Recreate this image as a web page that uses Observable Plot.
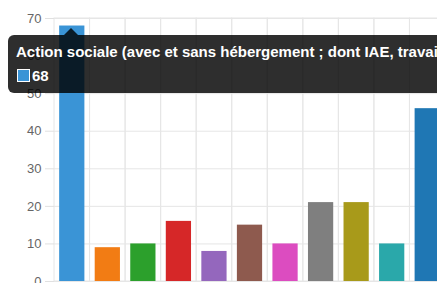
<!DOCTYPE html>
<html>
<head>
<meta charset="utf-8">
<script src="https://cdn.jsdelivr.net/npm/d3@7"></script>
<script src="https://cdn.jsdelivr.net/npm/@observablehq/plot@0.6"></script>
<style>
  html, body { margin: 0; padding: 0; background: #fff; overflow: hidden; width: 437px; height: 283px; }
  #wrap { position: relative; width: 437px; height: 283px; overflow: hidden; }
  #chart svg { max-width: none !important; display: block; }
  #tip {
    position: absolute; left: 8px; top: 35px; width: 470px; height: 58px;
    background: rgba(0,0,0,0.82); border-radius: 6px; color: #fff;
    font-family: "Liberation Sans", Arial, sans-serif; box-sizing: border-box;
  }
  #tip::before {
    content: ""; position: absolute; left: 56px; top: -7px;
    border-left: 7px solid transparent; border-right: 7px solid transparent;
    border-bottom: 7px solid rgba(0,0,0,0.82);
  }
  #tip .t { position: absolute; left: 8px; top: 8px; font-weight: bold; font-size: 15px; white-space: nowrap; }
  #tip .b { position: absolute; left: 9px; top: 32px; font-weight: bold; font-size: 15px; display: flex; align-items: center; }
  #tip .sw { width: 11px; height: 11px; border: 1px solid #fff; margin-right: 2px; }
</style>
</head>
<body>
<div id="wrap">
  <div id="chart"></div>
  <div id="tip"><div class="t"></div><div class="b"><span class="sw"></span><span class="v"></span></div></div>
</div>
<script>
const categories = [
  "Action sociale (avec et sans hébergement ; dont IAE, travail protégé)",
  "Catégorie 2", "Catégorie 3", "Catégorie 4", "Catégorie 5", "Catégorie 6",
  "Catégorie 7", "Catégorie 8", "Catégorie 9", "Catégorie 10", "Catégorie 11"
];
const values = [68, 9, 10, 16, 8, 15, 10, 21, 21, 10, 46];
const colors = ["#3a94d6", "#f27c14", "#2ca02c", "#d62728", "#9467bd", "#8e5a4e",
                "#dc4cc0", "#7f7f7f", "#a89a1a", "#2aa8aa", "#1f77b4"];
const yTicks = [0, 10, 20, 30, 40, 50, 60, 70];
const hovered = 0;

const data = categories.map((c, i) => ({cat: c, value: values[i], color: colors[i]}));

const chart = Plot.plot({
  width: 460,
  height: 300,
  marginLeft: 54,
  marginRight: 15,
  marginTop: 18,
  marginBottom: 19,
  style: {fontFamily: "'Liberation Sans', Arial, sans-serif", fontSize: "13px", background: "#fff", maxWidth: "none"},
  x: {domain: categories, paddingInner: 0.29, paddingOuter: 0.145, round: false, axis: null},
  y: {domain: [0, 70], ticks: yTicks},
  marks: [
    Plot.ruleY(yTicks, {y: d => d, stroke: "#e6e6e6", strokeWidth: 1}),
    Plot.barY(categories, {x: d => d, y1: 0, y2: 70, fill: "none", stroke: "#e6e6e6",
      insetLeft: -5.15, insetRight: -5.15}),
    Plot.axisY({ticks: yTicks, tickSize: 9, tickPadding: 4, stroke: "#e0e0e0", fill: "#666", label: null, fontSize: 13}),
    Plot.barY(data, {x: "cat", y: "value", fill: "color"})
  ]
});
chart.style.maxWidth = "none";
document.getElementById("chart").append(chart);

document.querySelector("#tip .t").textContent = categories[hovered];
document.querySelector("#tip .v").textContent = values[hovered];
document.querySelector("#tip .sw").style.background = colors[hovered];
</script>
</body>
</html>
